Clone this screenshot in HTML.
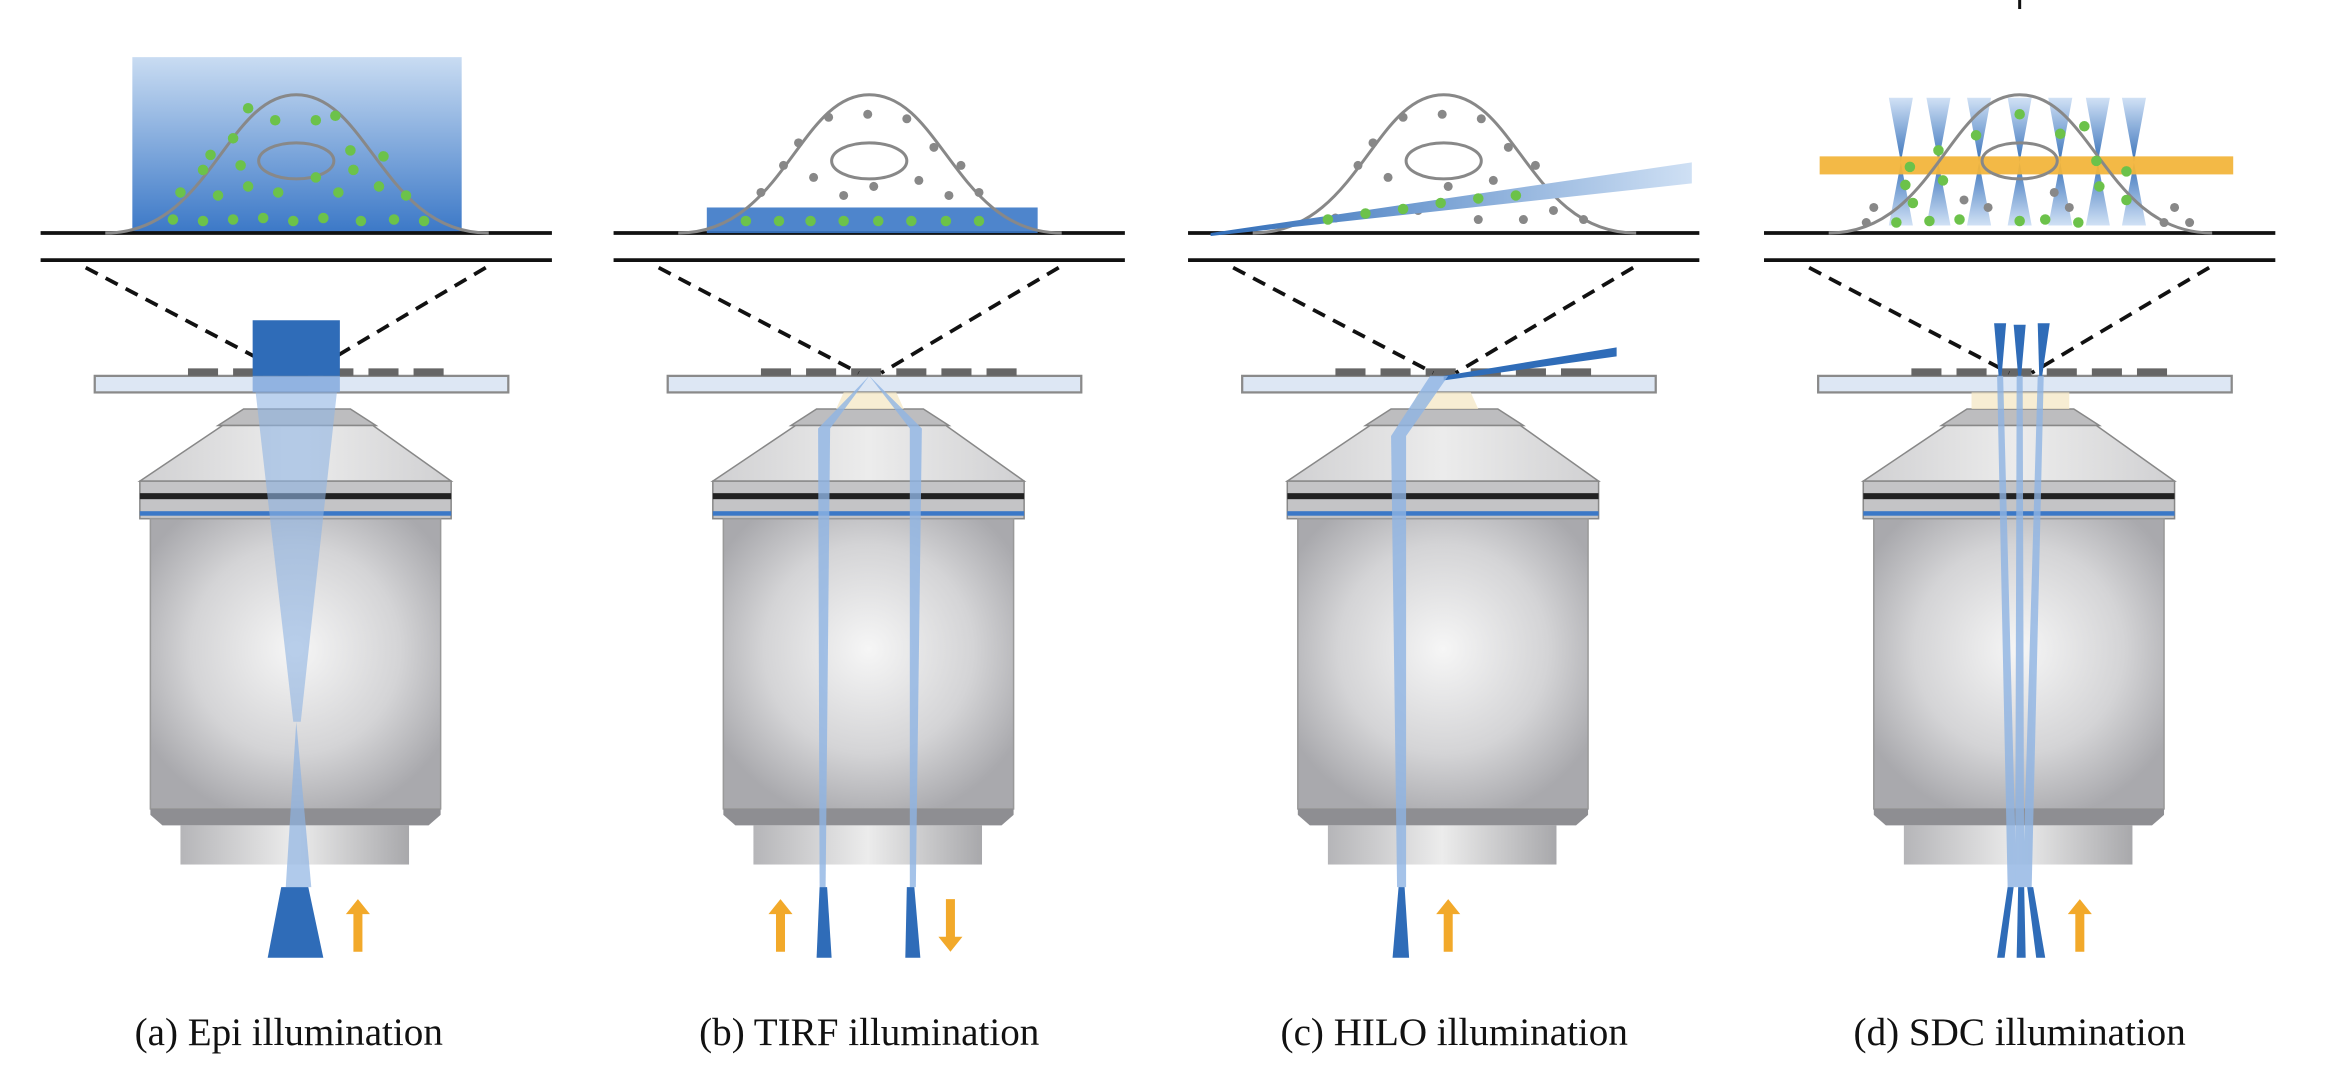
<!DOCTYPE html>
<html><head><meta charset="utf-8"><style>
html,body{margin:0;padding:0;background:#fff;}
svg{display:block;}
text{font-family:"Liberation Serif",serif;font-size:26px;fill:#111;}
</style></head><body>
<svg width="2346" height="1066" viewBox="0 0 1560 709" preserveAspectRatio="none" xmlns="http://www.w3.org/2000/svg">
<defs>
<radialGradient id="body" cx="0.5" cy="0.45" r="0.6">
<stop offset="0" stop-color="#f6f6f6"/><stop offset="0.6" stop-color="#d4d4d6"/><stop offset="1" stop-color="#a9a9ad"/></radialGradient>
<linearGradient id="hz" x1="0" x2="1" y1="0" y2="0">
<stop offset="0" stop-color="#b5b5b8"/><stop offset="0.5" stop-color="#ececec"/><stop offset="1" stop-color="#a8a8ab"/></linearGradient>
<linearGradient id="trap" x1="0" x2="1"><stop offset="0" stop-color="#d0d0d2"/><stop offset="0.5" stop-color="#ececec"/><stop offset="1" stop-color="#d0d0d2"/></linearGradient>
<linearGradient id="epi" x1="0" y1="0" x2="0" y2="1"><stop offset="0" stop-color="#c9dcf2"/><stop offset="1" stop-color="#3b78c7"/></linearGradient>
<linearGradient id="hilo" x1="0" y1="0" x2="1" y2="0"><stop offset="0" stop-color="#2f6cb8"/><stop offset="1" stop-color="#cfe0f4"/></linearGradient>
<linearGradient id="hg" x1="0" y1="0" x2="0" y2="1"><stop offset="0" stop-color="#cfe0f5"/><stop offset="0.5" stop-color="#2f6cb8"/><stop offset="1" stop-color="#cfe0f5"/></linearGradient>
<g id="obj">
 <rect x="63" y="250" width="275" height="11" fill="#dde7f4" stroke="#8a8a8a" stroke-width="1.5"/>
 <rect x="125" y="245" width="20" height="5" fill="#666"/><rect x="155" y="245" width="20" height="5" fill="#666"/><rect x="185" y="245" width="20" height="5" fill="#666"/><rect x="215" y="245" width="20" height="5" fill="#666"/><rect x="245" y="245" width="20" height="5" fill="#666"/><rect x="275" y="245" width="20" height="5" fill="#666"/>
 <polygon points="162,272 233,272 250,283 145,283" fill="#bdbdbf" stroke="#888"/>
 <polygon points="148,283 248,283 300,320 93,320" fill="url(#trap)" stroke="#888"/>
 <rect x="93" y="320" width="207" height="25" fill="#c4c4c6" stroke="#888"/>
 <rect x="93" y="328" width="207" height="4" fill="#222"/>
 <rect x="93" y="340" width="207" height="3" fill="#3b78c7"/>
 <rect x="100" y="345" width="193" height="193" fill="url(#body)" stroke="#999"/>
 <polygon points="100,538 293,538 293,542 285,549 108,549 100,542" fill="#8e8e92"/>
 <rect x="120" y="549" width="152" height="26" fill="url(#hz)"/>
 <line x1="27" y1="155" x2="367" y2="155" stroke="#111" stroke-width="2.5"/>
 <line x1="27" y1="173" x2="367" y2="173" stroke="#111" stroke-width="2.5"/>
 <line x1="57" y1="178" x2="190" y2="248" stroke="#111" stroke-width="2.5" stroke-dasharray="9,6"/>
 <line x1="323" y1="178" x2="205" y2="248" stroke="#111" stroke-width="2.5" stroke-dasharray="9,6"/>
</g>
<g id="cell">
 <path d="M70,155 C140,155 150,63 197,63 C245,63 255,155 325,155" fill="none" stroke="#888" stroke-width="2"/>
 <ellipse cx="197" cy="107" rx="25" ry="12" fill="none" stroke="#888" stroke-width="2"/>
</g>
</defs>

<!-- (a) -->
<rect x="88" y="38" width="219" height="117" fill="url(#epi)"/>
<use href="#obj"/>
<use href="#cell"/>
<g fill="#6cc24a">
<circle cx="165" cy="72" r="3.5"/><circle cx="183" cy="80" r="3.5"/><circle cx="210" cy="80" r="3.5"/><circle cx="223" cy="77" r="3.5"/>
<circle cx="155" cy="92" r="3.5"/><circle cx="233" cy="100" r="3.5"/><circle cx="140" cy="103" r="3.5"/><circle cx="255" cy="104" r="3.5"/>
<circle cx="135" cy="113" r="3.5"/><circle cx="160" cy="110" r="3.5"/><circle cx="210" cy="118" r="3.5"/><circle cx="235" cy="113" r="3.5"/>
<circle cx="120" cy="128" r="3.5"/><circle cx="145" cy="130" r="3.5"/><circle cx="165" cy="124" r="3.5"/><circle cx="185" cy="128" r="3.5"/><circle cx="225" cy="128" r="3.5"/><circle cx="252" cy="124" r="3.5"/><circle cx="270" cy="130" r="3.5"/>
<circle cx="115" cy="146" r="3.5"/><circle cx="135" cy="147" r="3.5"/><circle cx="155" cy="146" r="3.5"/><circle cx="175" cy="145" r="3.5"/><circle cx="195" cy="147" r="3.5"/><circle cx="215" cy="145" r="3.5"/><circle cx="240" cy="147" r="3.5"/><circle cx="262" cy="146" r="3.5"/><circle cx="282" cy="147" r="3.5"/>
</g>
<rect x="168" y="213" width="58" height="37" fill="#2f6cb8"/>
<polygon points="168,250 226,250 226,261 168,261" fill="#7ea6dc" opacity="0.8"/>
<polygon points="170,261 224,261 200,480 195,480" fill="#8fb4e3" opacity="0.6"/>
<polygon points="197,480 190,590 207,590" fill="#8fb4e3" opacity="0.7"/>
<polygon points="187,590 205,590 215,637 178,637" fill="#2f6cb8"/>
<polygon points="238,598 246,608 241,608 241,633 235,633 235,608 230,608" fill="#f2a92a"/>
<text x="192" y="695" text-anchor="middle">(a) Epi illumination</text>

<!-- (b) -->
<g transform="translate(381,0)">
<use href="#obj"/>
<rect x="89" y="138" width="220" height="17" fill="#3b78c7" opacity="0.9"/>
<use href="#cell"/>
<g fill="#888">
<circle cx="170" cy="78" r="3"/><circle cx="196" cy="76" r="3"/><circle cx="222" cy="79" r="3"/><circle cx="150" cy="95" r="3"/><circle cx="240" cy="98" r="3"/><circle cx="140" cy="110" r="3"/><circle cx="258" cy="110" r="3"/>
<circle cx="160" cy="118" r="3"/><circle cx="200" cy="124" r="3"/><circle cx="230" cy="120" r="3"/><circle cx="125" cy="128" r="3"/><circle cx="180" cy="130" r="3"/><circle cx="270" cy="128" r="3"/><circle cx="250" cy="130" r="3"/>
</g>
<g fill="#6cc24a"><circle cx="115" cy="147" r="3.5"/><circle cx="137" cy="147" r="3.5"/><circle cx="158" cy="147" r="3.5"/><circle cx="180" cy="147" r="3.5"/><circle cx="203" cy="147" r="3.5"/><circle cx="225" cy="147" r="3.5"/><circle cx="248" cy="147" r="3.5"/><circle cx="270" cy="147" r="3.5"/></g>
<polygon points="180,261 215,261 220,272 175,272" fill="#f5e8c8" opacity="0.8"/>
<polygon points="197,250 163,285 171,285" fill="#8fb4e3" opacity="0.8"/>
<polygon points="197,250 224,285 232,285" fill="#8fb4e3" opacity="0.8"/>
<polygon points="163,285 171,285 168,590 164,590" fill="#8fb4e3" opacity="0.8"/>
<polygon points="224,285 232,285 228,590 224,590" fill="#8fb4e3" opacity="0.8"/>
<polygon points="164,590 169,590 172,637 162,637" fill="#2f6cb8"/>
<polygon points="222,590 227,590 231,637 221,637" fill="#2f6cb8"/>
<polygon points="138,598 146,608 141,608 141,633 135,633 135,608 130,608" fill="#f2a92a"/>
<polygon points="251,633 259,623 254,623 254,598 248,598 248,623 243,623" fill="#f2a92a"/>
</g>
<text x="578" y="695" text-anchor="middle">(b) TIRF illumination</text>

<!-- (c) -->
<g transform="translate(763,0)">
<use href="#obj"/>
<use href="#cell"/>
<g fill="#888">
<circle cx="170" cy="78" r="3"/><circle cx="196" cy="76" r="3"/><circle cx="222" cy="79" r="3"/><circle cx="150" cy="95" r="3"/><circle cx="240" cy="98" r="3"/><circle cx="140" cy="110" r="3"/><circle cx="258" cy="110" r="3"/>
<circle cx="160" cy="118" r="3"/><circle cx="200" cy="124" r="3"/><circle cx="230" cy="120" r="3"/><circle cx="125" cy="145" r="3"/><circle cx="180" cy="140" r="3"/><circle cx="270" cy="140" r="3"/><circle cx="250" cy="146" r="3"/><circle cx="290" cy="146" r="3"/><circle cx="220" cy="146" r="3"/>
</g>
<polygon points="42,155 362,108 362,122 42,157" fill="url(#hilo)"/>
<g fill="#6cc24a"><circle cx="120" cy="146" r="3.5"/><circle cx="145" cy="142" r="3.5"/><circle cx="170" cy="139" r="3.5"/><circle cx="195" cy="135" r="3.5"/><circle cx="220" cy="132" r="3.5"/><circle cx="245" cy="130" r="3.5"/></g>
<polygon points="180,261 215,261 220,272 175,272" fill="#f5e8c8" opacity="0.8"/>
<polygon points="197,250 312,231 312,237 197,253" fill="#2f6cb8"/>
<polygon points="188,250 200,250 172,290 162,290" fill="#8fb4e3" opacity="0.8"/>
<polygon points="162,290 172,290 172,590 166,590" fill="#8fb4e3" opacity="0.8"/>
<polygon points="167,590 171,590 174,637 163,637" fill="#2f6cb8"/>
<polygon points="200,598 208,608 203,608 203,633 197,633 197,608 192,608" fill="#f2a92a"/>
</g>
<text x="967" y="695" text-anchor="middle">(c) HILO illumination</text>

<!-- (d) -->
<g transform="translate(1146,0)">
<use href="#obj"/>
<g fill="url(#hg)" opacity="0.95">
<polygon points="110,65 126,65 118,108 126,150 110,150 118,108"/>
<polygon points="135,65 151,65 143,108 151,150 135,150 143,108"/>
<polygon points="162,65 178,65 170,108 178,150 162,150 170,108"/>
<polygon points="189,65 205,65 197,108 205,150 189,150 197,108"/>
<polygon points="216,65 232,65 224,108 232,150 216,150 224,108"/>
<polygon points="241,65 257,65 249,108 257,150 241,150 249,108"/>
<polygon points="265,65 281,65 273,108 281,150 265,150 273,108"/>
</g>
<rect x="64" y="104" width="275" height="12" fill="#f2b53c" opacity="0.95"/>
<use href="#cell"/>
<g fill="#888"><circle cx="100" cy="138" r="3"/><circle cx="95" cy="148" r="3"/><circle cx="160" cy="133" r="3"/><circle cx="176" cy="138" r="3"/><circle cx="220" cy="128" r="3"/><circle cx="230" cy="138" r="3"/><circle cx="300" cy="138" r="3"/><circle cx="293" cy="148" r="3"/><circle cx="310" cy="148" r="3"/></g>
<g fill="#6cc24a"><circle cx="197" cy="76" r="3.5"/><circle cx="168" cy="90" r="3.5"/><circle cx="224" cy="89" r="3.5"/><circle cx="240" cy="84" r="3.5"/><circle cx="143" cy="100" r="3.5"/><circle cx="124" cy="111" r="3.5"/><circle cx="146" cy="120" r="3.5"/><circle cx="121" cy="123" r="3.5"/><circle cx="248" cy="107" r="3.5"/><circle cx="268" cy="114" r="3.5"/><circle cx="250" cy="124" r="3.5"/><circle cx="268" cy="133" r="3.5"/><circle cx="126" cy="135" r="3.5"/><circle cx="115" cy="148" r="3.5"/><circle cx="137" cy="147" r="3.5"/><circle cx="157" cy="146" r="3.5"/><circle cx="197" cy="147" r="3.5"/><circle cx="214" cy="146" r="3.5"/><circle cx="236" cy="148" r="3.5"/></g>
<polygon points="165,261 230,261 230,272 165,272" fill="#f5e8c8" opacity="0.8"/>
<polygon points="180,215 188,215 185,250 183,250" fill="#2f6cb8"/>
<polygon points="193,216 201,216 198,250 196,250" fill="#2f6cb8"/>
<polygon points="209,215 217,215 212,250 210,250" fill="#2f6cb8"/>
<g fill="#8fb4e3" opacity="0.8">
<polygon points="182,250 186,250 195,590 189,590"/>
<polygon points="195,250 199,250 200,590 194,590"/>
<polygon points="209,250 213,250 205,590 199,590"/>
</g>
<polygon points="189,590 193,590 187,637 182,637" fill="#2f6cb8"/>
<polygon points="196,590 200,590 201,637 195,637" fill="#2f6cb8"/>
<polygon points="202,590 206,590 214,637 208,637" fill="#2f6cb8"/>
<polygon points="237,598 245,608 240,608 240,633 234,633 234,608 229,608" fill="#f2a92a"/>
</g>
<line x1="1343" y1="0" x2="1343" y2="6" stroke="#111" stroke-width="2"/>
<text x="1343" y="695" text-anchor="middle">(d) SDC illumination</text>
</svg>
</body></html>
